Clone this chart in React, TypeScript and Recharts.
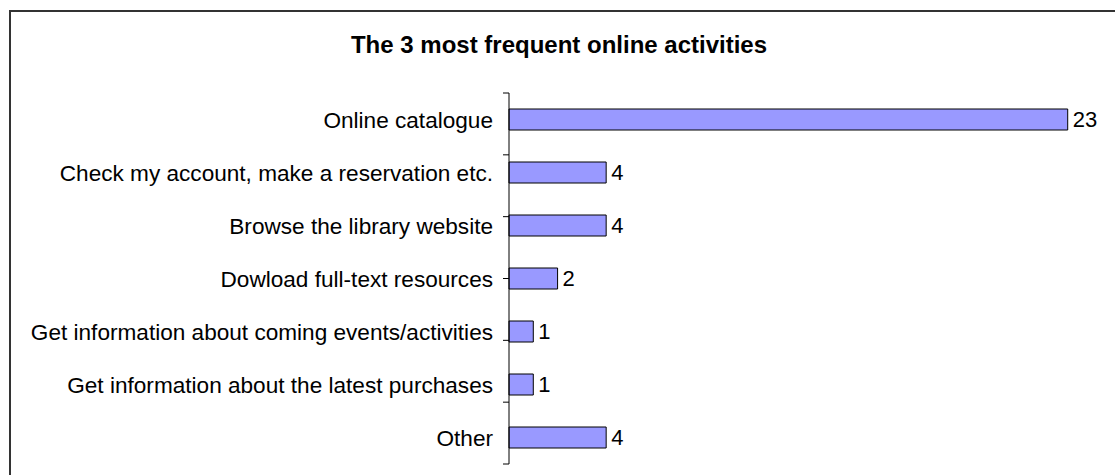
import React from "react";
import { BarChart, Bar, XAxis, YAxis, LabelList } from "recharts";

const categories = [
  "Online catalogue",
  "Check my account, make a reservation etc.",
  "Browse the library website",
  "Dowload full-text resources",
  "Get information about coming events/activities",
  "Get information about the latest purchases",
  "Other",
];
const counts = [23, 4, 4, 2, 1, 1, 4];
const title = "The 3 most frequent online activities";
const boundaryTicks = [0, 1, 2, 3, 4, 5, 6, 7];

const data = categories.map((name, i) => ({ name, value: counts[i] }));

const FONT = "'Liberation Sans', Arial, Helvetica, sans-serif";

const EmptyTick = () => <g />;

export default function App() {
  return (
    <div
      style={{
        position: "absolute",
        left: 0,
        top: 0,
        width: 1115,
        height: 475,
        overflow: "hidden",
        background: "#fff",
        fontFamily: FONT,
      }}
    >
      <div
        style={{
          position: "absolute",
          left: 9,
          top: 10,
          width: 1200,
          height: 600,
          border: "2px solid #333",
        }}
      />
      <div
        style={{
          position: "absolute",
          left: 0,
          top: 33,
          width: 1118,
          textAlign: "center",
          fontSize: 24,
          lineHeight: "24px",
          fontWeight: "bold",
          color: "#000",
        }}
      >
        {title}
      </div>
      <div style={{ position: "absolute", left: 0, top: 0 }}>
        <BarChart
          width={1115}
          height={475}
          data={data}
          layout="vertical"
          margin={{ top: 93, right: 23, bottom: 11, left: 0 }}
          barSize={21}
        >
          <XAxis type="number" domain={[0, 24]} hide />
          <YAxis
            yAxisId="a_grid"
            type="number"
            domain={[0, 7]}
            ticks={boundaryTicks}
            interval={0}
            allowDataOverflow
            width={1}
            tick={EmptyTick}
            tickSize={6}
            axisLine={{ stroke: "#000" }}
            tickLine={{ stroke: "#000" }}
          />
          <YAxis
            yAxisId="b_cat"
            type="category"
            dataKey="name"
            width={508}
            axisLine={false}
            tickLine={false}
            tickSize={6}
            tickMargin={9}
            interval={0}
            tick={{ fill: "#000", fontSize: 22.6, fontFamily: FONT }}
          />
          <Bar
            yAxisId="b_cat"
            dataKey="value"
            fill="#9999FF"
            stroke="#000"
            strokeWidth={1}
            isAnimationActive={false}
          >
            <LabelList
              dataKey="value"
              position="right"
              offset={5}
              fill="#000"
              fontSize={22}
              fontFamily={FONT}
            />
          </Bar>
        </BarChart>
      </div>
    </div>
  );
}
